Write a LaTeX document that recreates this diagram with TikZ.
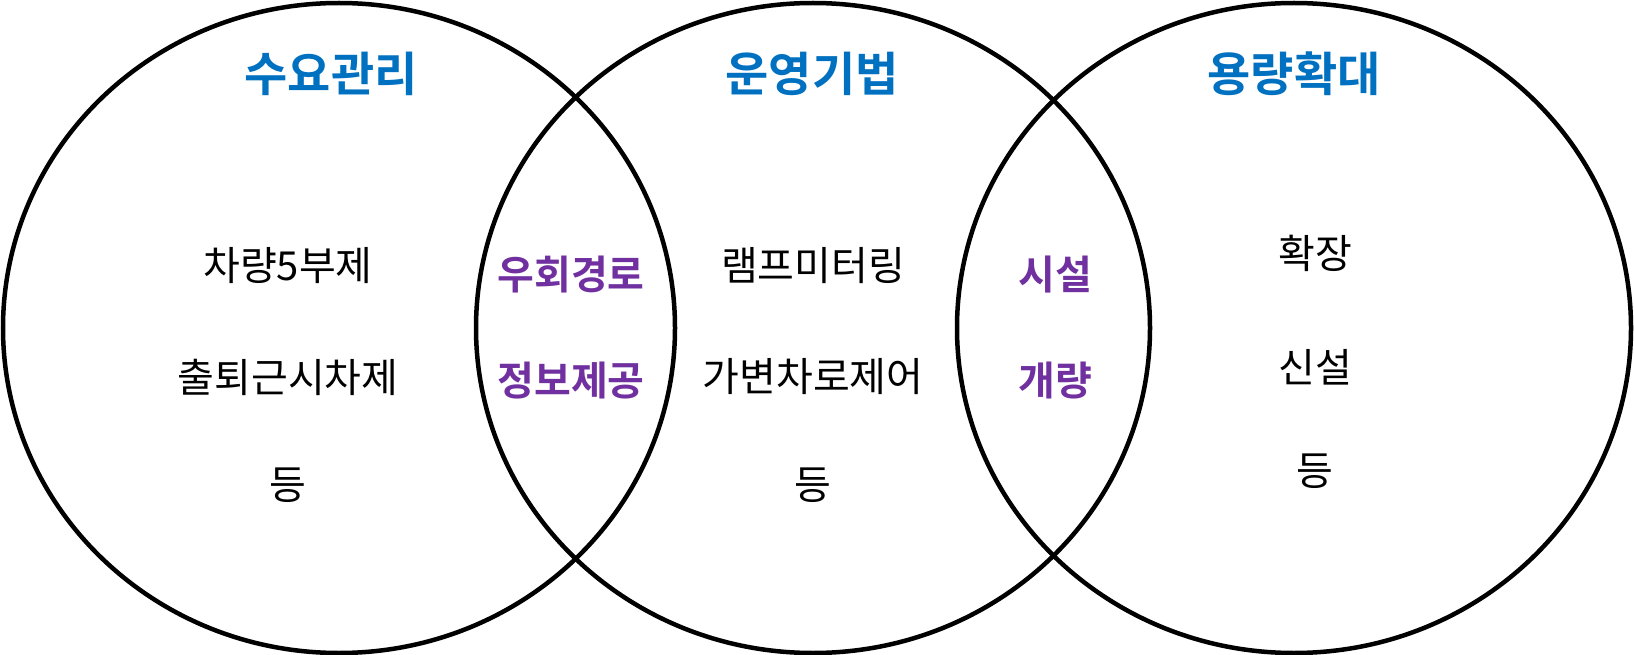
\documentclass[tikz,border=0pt]{standalone}
\usepackage{fontspec}
\setmainfont{Noto Sans CJK KR}
\newfontfamily\krbold{Noto Sans CJK KR Bold}
\definecolor{titleblue}{RGB}{0,112,192}
\definecolor{midpurple}{RGB}{112,48,160}
\begin{document}
\begin{tikzpicture}[x=1pt,y=-1pt,
  ring/.style={draw=black,line width=4.5pt},
  ttl/.style={font=\krbold\fontsize{47}{52}\selectfont,text=titleblue,inner sep=0pt},
  item/.style={font=\fontsize{40}{44}\selectfont,text=black,inner sep=0pt},
  shared/.style={font=\krbold\fontsize{40}{44}\selectfont,text=midpurple,inner sep=0pt}]
\useasboundingbox[fill=white] (0,0) rectangle (1634,655);
\draw[ring] (339,328) ellipse [x radius=336, y radius=325];
\draw[ring] (813,328) ellipse [x radius=337, y radius=325];
\draw[ring] (1294,328) ellipse [x radius=337, y radius=325];
\node[ttl] (t1) at (331,74) {수요관리};
\node[ttl] (t2) at (812,74) {운영기법};
\node[ttl] (t3) at (1294,74) {용량확대};
\node[item] (a1) at (288,266) {차량5부제};
\node[item] (a2) at (288,377) {출퇴근시차제};
\node[item] (a3) at (288,485) {등};
\node[item] (b1) at (813,266) {램프미터링};
\node[item] (b2) at (813,377) {가변차로제어};
\node[item] (b3) at (813,485) {등};
\node[item] (c1) at (1315,253) {확장};
\node[item] (c2) at (1315,367) {신설};
\node[item] (c3) at (1315,471) {등};
\node[shared] (s1) at (571,275) {우회경로};
\node[shared] (s2) at (571,381) {정보제공};
\node[shared] (s3) at (1055,275) {시설};
\node[shared] (s4) at (1055,381) {개량};
\end{tikzpicture}
\end{document}
